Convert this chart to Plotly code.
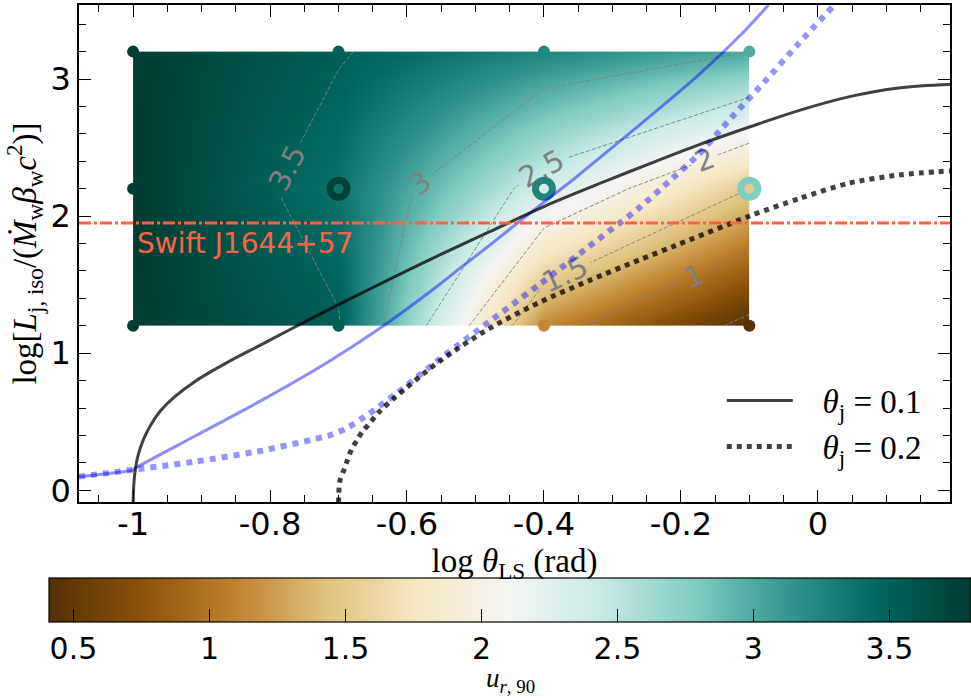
import numpy as np
import plotly.graph_objects as go
import plotly.colors as pc

# ---------------- data ----------------
# simulation grid (log theta_LS, log L) and u_{r,90} values at each node
X_GRID = [-1.0, -0.7, -0.4, -0.1]
Y_GRID = [1.2, 2.2, 3.2]
U_AT_Y12 = [3.79, 3.52, 1.13, 0.41]
U_AT_Y22 = [3.80, 3.37, 2.35, 1.50]
U_AT_Y32 = [3.79, 3.52, 3.24, 3.00]
U_MIN, U_MAX = 0.41, 3.80

# highlighted simulations (open rings) and their colour values
RING_X = [-0.7, -0.4, -0.1]
RING_Y = [2.2, 2.2, 2.2]
RING_U = [3.75, 3.25, 2.78]

# theta_j = 0.1 (solid black)
TJ01_X = [-1.0, -0.998, -0.993, -0.985, -0.975, -0.96, -0.94, -0.908, -0.86, -0.812, -0.77, -0.70,
          -0.617, -0.553, -0.48, -0.40, -0.31, -0.247, -0.174, -0.10, -0.028, 0.045, 0.118, 0.193]
TJ01_Y = [-0.09, 0.10, 0.25, 0.37, 0.47, 0.58, 0.68, 0.80, 0.94, 1.065, 1.175, 1.355,
          1.56, 1.715, 1.885, 2.07, 2.255, 2.38, 2.52, 2.65, 2.77, 2.87, 2.935, 2.96]

# theta_j = 0.2 (dotted black)
TJ02_X = [-0.70, -0.698, -0.692, -0.687, -0.681, -0.673, -0.665, -0.656, -0.641, -0.617,
          -0.553, -0.48, -0.407, -0.334, -0.261, -0.208, -0.10, -0.026, 0.045, 0.118, 0.193]
TJ02_Y = [-0.09, 0.07, 0.15, 0.22, 0.30, 0.365, 0.43, 0.48, 0.57, 0.68,
          0.94, 1.18, 1.37, 1.53, 1.68, 1.785, 2.0, 2.13, 2.24, 2.30, 2.33]

# companion curves (translucent blue), solid and dotted
B1_X = [-1.079, -1.0, -0.996, -0.908, -0.811, -0.714, -0.646, -0.553, -0.524, -0.48,
        -0.407, -0.359, -0.247, -0.174, -0.111, -0.072]
B1_Y = [0.10, 0.15, 0.165, 0.40, 0.66, 0.94, 1.16, 1.50, 1.615, 1.785,
        2.075, 2.26, 2.72, 3.03, 3.33, 3.54]

B2_X = [-1.079, -1.0, -0.908, -0.811, -0.714, -0.689, -0.655, -0.617, -0.553, -0.48,
        -0.407, -0.334, -0.261, -0.218, -0.174, -0.126, -0.076, -0.028, 0.024]
B2_Y = [0.10, 0.15, 0.21, 0.29, 0.40, 0.45, 0.56, 0.70, 0.955, 1.23,
        1.50, 1.78, 2.06, 2.25, 2.45, 2.72, 2.99, 3.26, 3.54]

SWIFT_Y = 1.95
CONTOUR_START, CONTOUR_END, CONTOUR_STEP = 0.5, 3.5, 0.5
CB_TICKS = [0.5, 1, 1.5, 2, 2.5, 3, 3.5]
X_TICKS = [-1, -0.8, -0.6, -0.4, -0.2, 0]
Y_TICKS = [0, 1, 2, 3]
X_RANGE = [-1.079, 0.193]
Y_RANGE = [-0.085, 3.54]

# ---------------- figure ----------------
W, H = 971, 698
ML, MR, MT, MB = 79, 21, 5, 196
SANS = "DejaVu Sans"
SERIF = "Liberation Serif"
TICK_SIZE = 32

U_GRID = np.array([U_AT_Y12, U_AT_Y22, U_AT_Y32])

# smooth (gouraud-like) shading of the grid for display
nx, ny = 300, 140
xs = X_GRID[0] + (np.arange(nx) + 0.5) * (X_GRID[-1] - X_GRID[0]) / nx
ys = Y_GRID[0] + (np.arange(ny) + 0.5) * (Y_GRID[-1] - Y_GRID[0]) / ny
along_x = np.array([np.interp(xs, X_GRID, r) for r in U_GRID])
zf = np.array([np.interp(ys, Y_GRID, along_x[:, i]) for i in range(nx)]).T

fig = go.Figure()

plot_w = W - ML - MR
plot_h = H - MT - MB
cb_left, cb_right = 49, 971
cb_top = 578
cb_xc = ((cb_left + cb_right) / 2 - ML) / plot_w
fig.add_trace(go.Heatmap(
    x=xs, y=ys, z=zf, colorscale="BrBG", zmin=U_MIN, zmax=U_MAX, zsmooth="best",
    hoverinfo="skip",
    colorbar=dict(
        orientation="h", lenmode="pixels", len=cb_right - cb_left,
        thickness=44, thicknessmode="pixels",
        x=cb_xc, xanchor="center",
        y=-(cb_top - (H - MB)) / plot_h, yanchor="top",
        xpad=0, ypad=0,
        outlinewidth=1.2, outlinecolor="black",
        ticks="inside", ticklen=13, tickwidth=1.2, tickcolor="black",
        tickvals=CB_TICKS, ticktext=[f"{v:g}" for v in CB_TICKS],
        tickfont=dict(family=SANS, size=30, color="black"),
    ),
))

fig.add_trace(go.Contour(
    x=X_GRID, y=Y_GRID, z=U_GRID, autocontour=False, showscale=False,
    contours=dict(coloring="none", start=CONTOUR_START, end=CONTOUR_END, size=CONTOUR_STEP,
                  showlabels=True,
                  labelfont=dict(family=SANS, size=29, color="rgb(128,128,128)")),
    line=dict(color="rgb(128,128,128)", width=1, dash="4px,2px", smoothing=0),
    hoverinfo="skip", showlegend=False,
))

# grid nodes
gx = [x for _ in Y_GRID for x in X_GRID]
gy = [y for y in Y_GRID for _ in X_GRID]
gu = [u for row in U_GRID for u in row]
fig.add_trace(go.Scatter(
    x=gx, y=gy, mode="markers", showlegend=False, hoverinfo="skip",
    marker=dict(size=12, color=gu, colorscale="BrBG", cmin=U_MIN, cmax=U_MAX,
                showscale=False, line=dict(width=0)),
))

ring_cols = pc.sample_colorscale(pc.diverging.BrBG,
                                 [(u - U_MIN) / (U_MAX - U_MIN) for u in RING_U])
fig.add_trace(go.Scatter(
    x=RING_X, y=RING_Y, mode="markers", showlegend=False, hoverinfo="skip",
    marker=dict(symbol="circle-open", size=17, color=ring_cols, line=dict(width=7)),
))

fig.add_trace(go.Scatter(
    x=B1_X, y=B1_Y, mode="lines", showlegend=False, hoverinfo="skip",
    line=dict(color="rgba(0,0,255,0.45)", width=3, shape="spline", smoothing=0.6),
))
fig.add_trace(go.Scatter(
    x=B2_X, y=B2_Y, mode="lines", showlegend=False, hoverinfo="skip",
    line=dict(color="rgba(0,0,255,0.42)", width=6, dash="6px,6px", shape="spline", smoothing=0.5),
))
NB = "\u00a0\u00a0\u00a0"
fig.add_trace(go.Scatter(
    x=TJ01_X, y=TJ01_Y, mode="lines", name=NB + "<i>θ</i><sub>j</sub> = 0.1",
    line=dict(color="rgba(0,0,0,0.75)", width=3, shape="spline", smoothing=1.0),
))
fig.add_trace(go.Scatter(
    x=TJ02_X, y=TJ02_Y, mode="lines", name=NB + "<i>θ</i><sub>j</sub> = 0.2",
    line=dict(color="rgba(0,0,0,0.75)", width=5, dash="5px,5px", shape="spline", smoothing=0.8),
))

fig.add_hline(y=SWIFT_Y, line=dict(color="tomato", width=2.8, dash="12px,3px,3px,3px"))
fig.add_annotation(x=X_GRID[0], y=SWIFT_Y, text="Swift J1644+57", showarrow=False,
                   xanchor="left", yanchor="top", xshift=2, yshift=-2,
                   font=dict(family=SANS, size=28, color="tomato"))

# colour-bar label
fig.add_annotation(x=cb_xc, y=-(698 - (H - MB)) / plot_h, xref="paper", yref="paper",
                   text="<i>u</i><sub><i>r</i>, 90</sub>", showarrow=False,
                   xanchor="center", yanchor="bottom", borderpad=0,
                   font=dict(family=SERIF, size=27, color="black"))

axis_common = dict(
    showgrid=False, zeroline=False, showline=True, linecolor="black", linewidth=1.5,
    mirror="ticks", ticks="inside", ticklen=12, tickwidth=1.2, tickcolor="black",
    tickfont=dict(family=SANS, size=TICK_SIZE, color="black"),
)
fig.update_xaxes(
    **axis_common, range=X_RANGE, ticklabelstandoff=-7,
    tickvals=X_TICKS, ticktext=[f"{v:g}" for v in X_TICKS],
    minor=dict(dtick=0.05, tick0=0, ticks="inside", ticklen=7, tickwidth=1.2, tickcolor="black"),
    title=dict(text="log <i>θ</i><sub>LS</sub> (rad)", standoff=0,
               font=dict(family=SERIF, size=33, color="black")),
)
fig.update_yaxes(
    **axis_common, range=Y_RANGE,
    tickvals=Y_TICKS, ticktext=[f"{v:g}" for v in Y_TICKS],
    minor=dict(dtick=0.2, tick0=0, ticks="inside", ticklen=7, tickwidth=1.2, tickcolor="black"),
    title=dict(text="log[<i>L</i><sub>j, iso</sub>/(<i>Ṁ</i><sub>w</sub><i>β</i><sub>w</sub><i>c</i><sup>2</sup>)]",
               standoff=4, font=dict(family=SERIF, size=33, color="black")),
)

fig.update_layout(
    width=W, height=H,
    margin=dict(l=ML, r=MR, t=MT, b=MB, autoexpand=False),
    paper_bgcolor="white", plot_bgcolor="white",
    legend=dict(x=0.738, y=0.055, xanchor="left", yanchor="bottom",
                bgcolor="rgba(0,0,0,0)", borderwidth=0, itemwidth=66,
                font=dict(family=SERIF, size=33, color="black"),
                tracegroupgap=4),
)

fig.write_html("out.html", config={"displayModeBar": False},
               post_script="document.body.style.margin='0px';")
